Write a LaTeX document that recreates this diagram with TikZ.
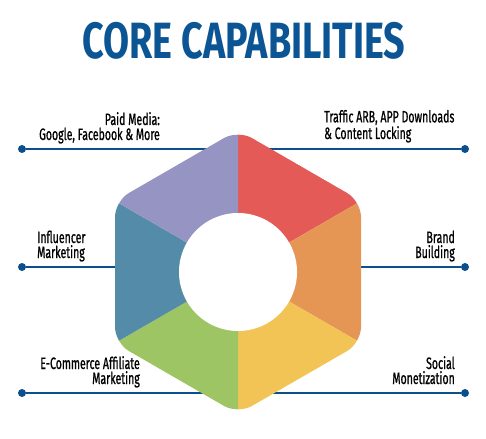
\documentclass[tikz,border=0pt]{standalone}
\usepackage{fontspec}
\setmainfont{Fira Sans}
\newfontfamily\labelfont[FakeStretch=0.64, FakeBold=0.8]{Fira Sans}
\newfontfamily\titlefont[FakeStretch=0.74]{Fira Sans}
\definecolor{cred}{HTML}{E35A57}
\definecolor{corange}{HTML}{E59655}
\definecolor{cyellow}{HTML}{F2C455}
\definecolor{cgreen}{HTML}{9DC563}
\definecolor{cblue}{HTML}{548BA9}
\definecolor{cpurple}{HTML}{9694C2}
\definecolor{ctitle}{HTML}{0B5595}
\definecolor{cline}{HTML}{0B4F8C}
\begin{document}
\begin{tikzpicture}[x=1pt,y=-1pt,
  lbl/.style={font=\labelfont\fontsize{16.5}{15}\selectfont, inner sep=0pt, text=black},
  dot/.style={circle, fill=cline, minimum size=8pt, inner sep=0pt},
  conn/.style={draw=cline, line width=1.8pt}]
\useasboundingbox (0,0) rectangle (486,438);
% centre and hexagon vertices
\coordinate (C) at (238,272);
\coordinate (V90) at (238,130);
\coordinate (V30) at (361,201);
\coordinate (Vm30) at (361,343);
\coordinate (Vm90) at (238,414);
\coordinate (Vm150) at (115,343);
\coordinate (V150) at (115,201);
% title
\node[font=\titlefont\bfseries\fontsize{51}{51}\selectfont, text=ctitle, inner sep=0pt] (title) at (244,41) {CORE CAPABILITIES};
% dots and connector ends
\node[dot] (d1) at (22,149) {};
\node[dot] (d2) at (22,267) {};
\node[dot] (d3) at (22,393) {};
\node[dot] (d4) at (465,149) {};
\node[dot] (d5) at (465,267) {};
\node[dot] (d6) at (465,393) {};
\coordinate (e1) at (220,149);
\coordinate (e2) at (125,267);
\coordinate (e3) at (215,393);
\coordinate (e4) at (256,149);
\coordinate (e5) at (351,267);
\coordinate (e6) at (261,393);
\draw[conn] (d1) -- (e1);
\draw[conn] (d2) -- (e2);
\draw[conn] (d3) -- (e3);
\draw[conn] (d4) -- (e4);
\draw[conn] (d5) -- (e5);
\draw[conn] (d6) -- (e6);
% hexagon ring
\begin{scope}
\clip[rounded corners=16pt] (V90) -- (V30) -- (Vm30) -- (Vm90) -- (Vm150) -- (V150) -- cycle;
\fill[cred] (C) -- (V90) -- (V30) -- cycle;
\fill[corange] (C) -- (V30) -- (Vm30) -- cycle;
\fill[cyellow] (C) -- (Vm30) -- (Vm90) -- cycle;
\fill[cgreen] (C) -- (Vm90) -- (Vm150) -- cycle;
\fill[cblue] (C) -- (Vm150) -- (V150) -- cycle;
\fill[cpurple] (C) -- (V150) -- (V90) -- cycle;
\end{scope}
\fill[white] (C) circle (59);
% labels (anchor = baseline of last line)
\node[lbl, anchor=base east, align=right] (l1) at (160,140) {Paid Media:\\Google, Facebook \& More};
\node[lbl, anchor=base west, align=left] (l2) at (37,258) {Influencer\\Marketing};
\node[lbl, anchor=base east, align=right] (l3) at (140,384) {E-Commerce Affiliate\\Marketing};
\node[lbl, anchor=base west, align=left] (l4) at (324,139) {Traffic ARB, APP Downloads\\\& Content Locking};
\node[lbl, anchor=base east, align=right] (l5) at (455,258) {Brand\\Building};
\node[lbl, anchor=base east, align=right] (l6) at (455,384) {Social\\Monetization};
\end{tikzpicture}
\end{document}
